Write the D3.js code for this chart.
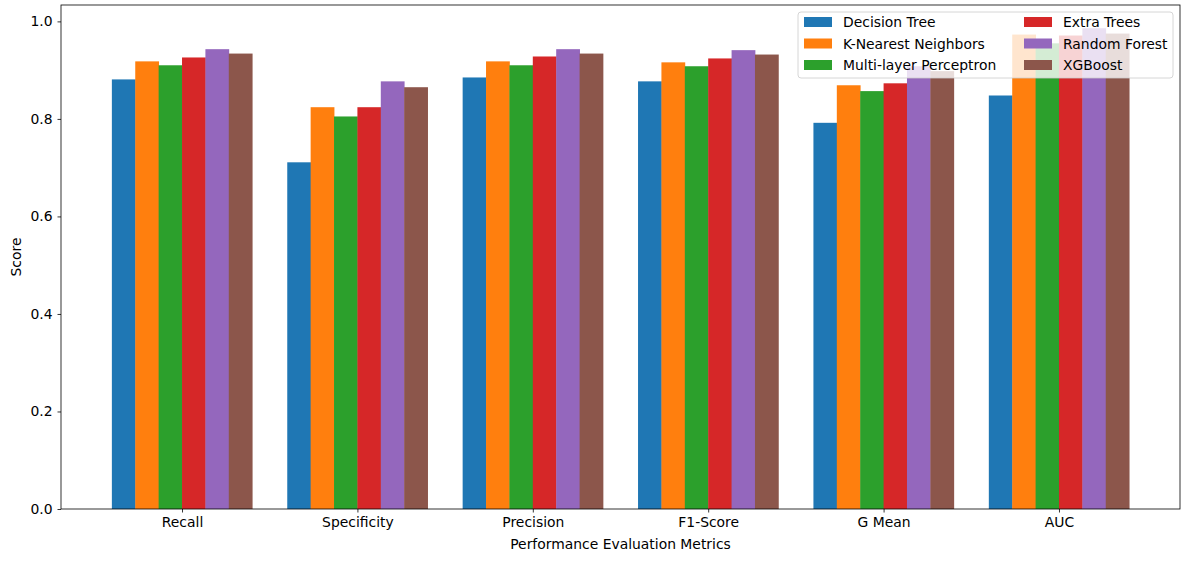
<!DOCTYPE html>
<html>
<head>
<meta charset="utf-8">
<script src="https://cdn.jsdelivr.net/npm/d3@7"></script>
<style>
    body { margin: 0; background: #fff; }
    svg text { font-family: "DejaVu Sans", sans-serif; fill: #000; }
</style>
</head>
<body>
<svg id="chart" width="1189" height="562"></svg>
<script>
// metric names along the x axis
var metrics = ['Recall', 'Specificity', 'Precision', 'F1-Score', 'G Mean', 'AUC'];
var models = ['Decision Tree', 'K-Nearest Neighbors', 'Multi-layer Perceptron', 'Extra Trees', 'Random Forest', 'XGBoost'];
var colors = ['#1f77b4', '#ff7f0e', '#2ca02c', '#d62728', '#9467bd', '#8c564b'];

// one array per model, in the order of metrics
var decisionTree = [0.881, 0.711, 0.885, 0.877, 0.792, 0.848];
var knn = [0.918, 0.824, 0.918, 0.916, 0.869, 0.973];
var mlp = [0.910, 0.805, 0.910, 0.908, 0.857, 0.955];
var extraTrees = [0.926, 0.824, 0.928, 0.924, 0.873, 0.971];
var randomForest = [0.943, 0.877, 0.943, 0.941, 0.908, 0.986];
var xgboost = [0.934, 0.865, 0.934, 0.932, 0.898, 0.975];
var series = [decisionTree, knn, mlp, extraTrees, randomForest, xgboost];

var yTicks = [0, 0.2, 0.4, 0.6, 0.8, 1.0];

var margin = { left: 61, right: 9, top: 5, bottom: 53 };
var W = 1189, H = 562;
var fs = '13.9px';
var svg = d3.select('#chart');

var barW = 0.8 / models.length;
var x = d3.scaleLinear().domain([-0.69, metrics.length - 1 + 0.69]).range([margin.left, W - margin.right]);
var y = d3.scaleLinear().domain([0, 1.0336]).range([H - margin.bottom, margin.top]);

// bars
series.forEach(function(vals, si) {
    svg.append('g').selectAll('rect')
        .data(vals)
        .enter().append('rect')
        .attr('x', function(d, i) { return x(i - 0.4 + si * barW); })
        .attr('width', x(barW) - x(0) + 0.4)
        .attr('y', function(d) { return y(d); })
        .attr('height', function(d) { return y(0) - y(d); })
        .attr('fill', colors[si]);
});

// axes
var yAxis = d3.axisLeft(y).tickValues(yTicks).tickFormat(d3.format('.1f')).tickSize(3.5).tickPadding(5);
var gy = svg.append('g').attr('transform', 'translate(' + margin.left + ',0)').call(yAxis);
var xAxis = d3.axisBottom(x).tickValues(d3.range(metrics.length)).tickFormat(function(d) { return metrics[d]; }).tickSize(3.5).tickPadding(5);
var gx = svg.append('g').attr('transform', 'translate(0,' + (H - margin.bottom) + ')').call(xAxis);
[gx, gy].forEach(function(g) {
    g.select('.domain').remove();
    g.selectAll('text').style('font-size', fs).attr('fill', '#000');
    g.selectAll('line').attr('stroke', '#000').attr('stroke-width', 0.8);
});

// frame
svg.append('rect')
    .attr('x', margin.left).attr('y', margin.top)
    .attr('width', W - margin.right - margin.left)
    .attr('height', H - margin.bottom - margin.top)
    .attr('fill', 'none').attr('stroke', '#000').attr('stroke-width', 0.8);

// axis labels
svg.append('text')
    .attr('x', (margin.left + W - margin.right) / 2).attr('y', 549)
    .attr('text-anchor', 'middle').style('font-size', fs)
    .text('Performance Evaluation Metrics');
svg.append('text')
    .attr('transform', 'translate(21,' + ((margin.top + H - margin.bottom) / 2) + ') rotate(-90)')
    .attr('text-anchor', 'middle').style('font-size', fs)
    .text('Score');

// legend, 2 columns
var lg = svg.append('g').attr('transform', 'translate(798,12)');
lg.append('rect')
    .attr('width', 375).attr('height', 66).attr('rx', 3)
    .attr('fill', 'rgba(255,255,255,0.8)').attr('stroke', '#ccc').attr('stroke-width', 0.8);
models.forEach(function(m, i) {
    var col = Math.floor(i / 3), row = i % 3;
    var item = lg.append('g').attr('transform', 'translate(' + (6 + col * 220) + ',' + (5 + row * 21.5) + ')');
    item.append('rect').attr('width', 28).attr('height', 10).attr('fill', colors[i]);
    item.append('text').attr('x', 39).attr('y', 10).style('font-size', fs).text(m);
});
</script>
</body>
</html>
